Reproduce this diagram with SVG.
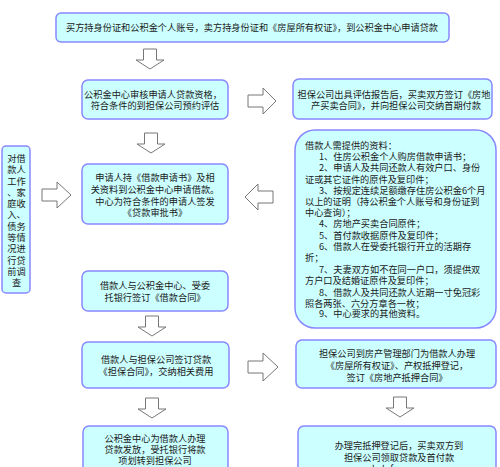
<svg xmlns="http://www.w3.org/2000/svg" xmlns:xlink="http://www.w3.org/1999/xlink" width="500" height="467" viewBox="0 0 500 467">
<style>
.box{fill:#ccffff;stroke:#8888ff;stroke-width:1.5}
.arr{fill:#ffffff;stroke:#777777;stroke-width:1}
text{font-family:"Noto Sans CJK SC","Noto Sans",sans-serif;font-size:9.2px;fill:#1a1a1a}
.c{text-anchor:middle}
</style>
<defs>
<path id="down" class="arr" d="M-6.5,0 h13 v11 h7.5 l-14,9 l-14,-9 h7.5 z"/>
</defs>
<rect width="500" height="467" fill="#ffffff"/>
<g id="connectors">
<use xlink:href="#down" x="150" y="49"/>
<use xlink:href="#down" x="151" y="133"/>
<use xlink:href="#down" x="152" y="316"/>
<use xlink:href="#down" x="152" y="398"/>
<use xlink:href="#down" x="400" y="397"/>
<path class="arr" d="M248,95 h15 v-7 l13,13 l-13,13 v-7 h-15 z"/>
<path class="arr" d="M42,189 h15 v-7 l14,13 l-14,13 v-7 h-15 z"/>
<path class="arr" d="M273,191 h-15 v-7 l-13,13 l13,13 v-7 h15 z"/>
<path class="arr" d="M248,361 h15 v-8 l15,14 l-15,14 v-8 h-15 z"/>
</g>
<g id="n1">
<rect class="box" x="56" y="13" width="393" height="29" rx="5"/>
<text class="c" x="252" y="30.5">买方持身份证和公积金个人账号，卖方持身份证和《房屋所有权证》，到公积金中心申请贷款</text>
</g>
<g id="n2">
<rect class="box" x="82" y="80" width="146" height="39" rx="6"/>
<text class="c" x="153" y="97.5">公积金中心审核申请人贷款资格，</text>
<text class="c" x="155" y="108.5">符合条件的到担保公司预约评估</text>
</g>
<g id="n3">
<rect class="box" x="293" y="79" width="199" height="40" rx="6"/>
<text class="c" x="394" y="98">担保公司出具评估报告后，买卖双方签订《房地</text>
<text class="c" x="396" y="109">产买卖合同》，并向担保公司交纳首期付款</text>
</g>
<g id="n4">
<rect class="box" x="82" y="164" width="146" height="60" rx="6"/>
<text class="c" x="155" y="180.5">申请人持《借款申请书》及相</text>
<text class="c" x="155" y="193">关资料到公积金中心申请借款。</text>
<text class="c" x="155" y="205">中心为符合条件的申请人签发</text>
<text class="c" x="155" y="216">《贷款审批书》</text>
</g>
<g id="n_left">
<rect class="box" x="2" y="146" width="28" height="147" rx="4"/>
<text class="c" x="16.5" y="161.5">对借</text>
<text class="c" x="16.5" y="173">款人</text>
<text class="c" x="16.5" y="184.5">工作</text>
<text class="c" x="16.5" y="196">、家</text>
<text class="c" x="16.5" y="207">庭收</text>
<text class="c" x="16.5" y="218">入、</text>
<text class="c" x="16.5" y="229.5">债务</text>
<text class="c" x="16.5" y="241">等情</text>
<text class="c" x="16.5" y="252">况进</text>
<text class="c" x="16.5" y="263.5">行贷</text>
<text class="c" x="16.5" y="275">前调</text>
<text class="c" x="16.5" y="286">查</text>
</g>
<g id="n_docs">
<rect class="box" x="295" y="130" width="201" height="198" rx="20"/>
<text x="305" y="148.5">借款人需提供的资料：</text>
<text x="319" y="159.5">1、住房公积金个人购房借款申请书；</text>
<text x="319" y="171">2、申请人及共同还款人有效户口、身份</text>
<text x="305" y="182.5">证或其它证件的原件及复印件；</text>
<text x="319" y="193.5">3、按规定连续足额缴存住房公积金6个月</text>
<text x="305" y="204.5">以上的证明（持公积金个人账号和身份证到</text>
<text x="305" y="215.5">中心查询）；</text>
<text x="319" y="227">4、房地产买卖合同原件；</text>
<text x="319" y="238.5">5、首付款收据原件及复印件；</text>
<text x="319" y="250">6、借款人在受委托银行开立的活期存</text>
<text x="305" y="261">折；</text>
<text x="319" y="272.5">7、夫妻双方如不在同一户口，须提供双</text>
<text x="305" y="284">方户口及结婚证原件及复印件；</text>
<text x="319" y="295.5">8、借款人及共同还款人近期一寸免冠彩</text>
<text x="305" y="306.5">照各两张、六分方章各一枚；</text>
<text x="319" y="317">9、中心要求的其他资料。</text>
</g>
<g id="n5">
<rect class="box" x="82" y="271" width="146" height="40" rx="6"/>
<text class="c" x="155" y="288.5">借款人与公积金中心、受委</text>
<text class="c" x="155" y="300.5">托银行签订《借款合同》</text>
</g>
<g id="n6">
<rect class="box" x="82" y="342" width="147" height="46" rx="6"/>
<text class="c" x="156" y="362.5">借款人与担保公司签订贷款</text>
<text class="c" x="156" y="374.5">《担保合同》，交纳相关费用</text>
</g>
<g id="n7">
<rect class="box" x="296" y="340" width="200" height="48" rx="6"/>
<text class="c" x="397" y="356.5">担保公司到房产管理部门为借款人办理</text>
<text class="c" x="397" y="368.5">《房屋所有权证》、产权抵押登记，</text>
<text class="c" x="397" y="380.5">签订《房地产抵押合同》</text>
</g>
<g id="n8">
<rect class="box" x="83" y="426" width="145" height="50" rx="6"/>
<text class="c" x="155" y="441.5">公积金中心为借款人办理</text>
<text class="c" x="155" y="452.5">贷款发放，受托银行将款</text>
<text class="c" x="155" y="463.5">项划转到担保公司</text>
</g>
<g id="n9">
<rect class="box" x="298" y="426" width="198" height="50" rx="6"/>
<text class="c" x="399" y="448.5">办理完抵押登记后，买卖双方到</text>
<text class="c" x="399" y="460.5">担保公司领取贷款及首付款</text>
<text class="c" x="399" y="471.5">hzb.focus.cn</text>
</g>
</svg>
